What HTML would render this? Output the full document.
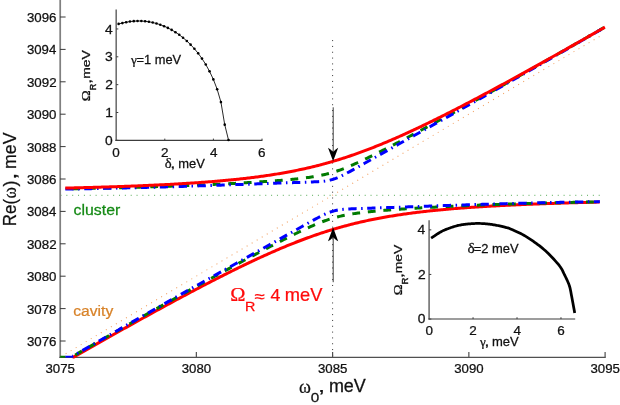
<!DOCTYPE html>
<html><head><meta charset="utf-8"><title>Re(ω) vs ω0</title>
<style>
html,body{margin:0;padding:0;background:#fff;}
body{width:620px;height:405px;overflow:hidden;font-family:'Liberation Sans', sans-serif;}
svg{display:block;will-change:transform;}
text{font-family:'Liberation Sans', sans-serif;fill:#111111;}
</style></head><body>
<svg width="620" height="405" viewBox="0 0 620 405">
<rect x="0" y="0" width="620" height="405" fill="#ffffff"/>

<g fill="none" stroke-linecap="butt">
<line x1="60.5" y1="195.3" x2="600" y2="195.3" stroke="#55aa55" stroke-width="1" stroke-dasharray="1 4.85"/>
<line x1="60.60" y1="356.85" x2="599.8" y2="36.29" stroke="#f2a468" stroke-width="1.05" stroke-dasharray="1.05 4.80"/>
<line x1="332.6" y1="40.1" x2="332.6" y2="357" stroke="#333333" stroke-width="1" stroke-dasharray="1 4.83"/>
</g>
<line x1="60.2" y1="0" x2="60.2" y2="358.0" stroke="#808080" stroke-width="1.75"/><line x1="59.4" y1="357.4" x2="605.7" y2="357.4" stroke="#505050" stroke-width="1.25"/>
<g stroke="#222" stroke-width="0.9" fill="none">
<line x1="60.2" y1="341.00" x2="65.6" y2="341.00"/>
<line x1="60.2" y1="308.60" x2="65.6" y2="308.60"/>
<line x1="60.2" y1="276.20" x2="65.6" y2="276.20"/>
<line x1="60.2" y1="243.80" x2="65.6" y2="243.80"/>
<line x1="60.2" y1="211.40" x2="65.6" y2="211.40"/>
<line x1="60.2" y1="179.00" x2="65.6" y2="179.00"/>
<line x1="60.2" y1="146.60" x2="65.6" y2="146.60"/>
<line x1="60.2" y1="114.20" x2="65.6" y2="114.20"/>
<line x1="60.2" y1="81.80" x2="65.6" y2="81.80"/>
<line x1="60.2" y1="49.40" x2="65.6" y2="49.40"/>
<line x1="60.2" y1="17.00" x2="65.6" y2="17.00"/>
<line x1="196.35" y1="357.4" x2="196.35" y2="352.1" stroke="#505050" stroke-width="1.2"/>
<line x1="332.60" y1="357.4" x2="332.60" y2="352.1" stroke="#505050" stroke-width="1.2"/>
<line x1="468.85" y1="357.4" x2="468.85" y2="352.1" stroke="#505050" stroke-width="1.2"/>
<line x1="605.10" y1="357.4" x2="605.10" y2="352.1" stroke="#505050" stroke-width="1.2"/>
</g>
<g fill="none" stroke-width="3.0" stroke-linejoin="round">
<path d="M65.30,188.91 L66.65,188.89 L68.00,188.86 L69.36,188.83 L70.71,188.81 L72.06,188.78 L73.41,188.75 L74.77,188.73 L76.12,188.70 L77.47,188.67 L78.82,188.64 L80.18,188.62 L81.53,188.59 L82.88,188.56 L84.23,188.53 L85.59,188.50 L86.94,188.47 L88.29,188.44 L89.64,188.42 L91.00,188.39 L92.35,188.36 L93.70,188.33 L95.05,188.30 L96.40,188.26 L97.76,188.23 L99.11,188.20 L100.46,188.17 L101.81,188.14 L103.17,188.11 L104.52,188.08 L105.87,188.04 L107.22,188.01 L108.58,187.98 L109.93,187.95 L111.28,187.91 L112.63,187.88 L113.99,187.84 L115.34,187.81 L116.69,187.78 L118.04,187.74 L119.40,187.71 L120.75,187.67 L122.10,187.64 L123.45,187.60 L124.80,187.56 L126.16,187.53 L127.51,187.49 L128.86,187.46 L130.21,187.42 L131.57,187.38 L132.92,187.34 L134.27,187.30 L135.62,187.27 L136.98,187.23 L138.33,187.19 L139.68,187.15 L141.03,187.11 L142.39,187.07 L143.74,187.03 L145.09,186.99 L146.44,186.95 L147.80,186.91 L149.15,186.87 L150.50,186.82 L151.85,186.78 L153.20,186.74 L154.56,186.70 L155.91,186.65 L157.26,186.61 L158.61,186.56 L159.97,186.52 L161.32,186.48 L162.67,186.43 L164.02,186.38 L165.38,186.34 L166.73,186.29 L168.08,186.25 L169.43,186.20 L170.79,186.15 L172.14,186.10 L173.49,186.05 L174.84,186.01 L176.20,185.96 L177.55,185.91 L178.90,185.86 L180.25,185.81 L181.60,185.76 L182.96,185.70 L184.31,185.65 L185.66,185.60 L187.01,185.55 L188.37,185.49 L189.72,185.44 L191.07,185.39 L192.42,185.33 L193.78,185.28 L195.13,185.22 L196.48,185.17 L197.83,185.11 L199.19,185.05 L200.54,185.00 L201.89,184.94 L203.24,184.88 L204.60,184.82 L205.95,184.76 L207.30,184.70 L208.65,184.64 L210.00,184.58 L211.36,184.52 L212.71,184.46 L214.06,184.39 L215.41,184.33 L216.77,184.27 L218.12,184.20 L219.47,184.14 L220.82,184.07 L222.18,184.00 L223.53,183.94 L224.88,183.87 L226.23,183.80 L227.59,183.73 L228.94,183.66 L230.29,183.59 L231.64,183.52 L233.00,183.45 L234.35,183.38 L235.70,183.31 L237.05,183.23 L238.40,183.16 L239.76,183.08 L241.11,183.01 L242.46,182.93 L243.81,182.85 L245.17,182.78 L246.52,182.70 L247.87,182.62 L249.22,182.54 L250.58,182.45 L251.93,182.37 L253.28,182.29 L254.63,182.20 L255.99,182.12 L257.34,182.03 L258.69,181.95 L260.04,181.86 L261.40,181.77 L262.75,181.68 L264.10,181.59 L265.45,181.49 L266.80,181.40 L268.16,181.31 L269.51,181.21 L270.86,181.11 L272.21,181.01 L273.57,180.91 L274.92,180.81 L276.27,180.71 L277.62,180.60 L278.98,180.49 L280.33,180.39 L281.68,180.27 L283.03,180.16 L284.39,180.05 L285.74,179.93 L287.09,179.81 L288.44,179.69 L289.80,179.56 L291.15,179.44 L292.50,179.31 L293.85,179.17 L295.20,179.03 L296.56,178.89 L297.91,178.75 L299.26,178.60 L300.61,178.45 L301.97,178.29 L303.32,178.13 L304.67,177.96 L306.02,177.78 L307.38,177.60 L308.73,177.42 L310.08,177.22 L311.43,177.02 L312.79,176.81 L314.14,176.59 L315.49,176.36 L316.84,176.12 L318.20,175.87 L319.55,175.61 L320.90,175.34 L322.25,175.06 L323.60,174.76 L324.96,174.45 L326.31,174.12 L327.66,173.78 L329.01,173.43 L330.37,173.06 L331.72,172.67 L333.07,172.27 L334.42,171.86 L335.78,171.43 L337.13,170.98 L338.48,170.52 L339.83,170.04 L341.19,169.55 L342.54,169.04 L343.89,168.53 L345.24,168.00 L346.60,167.46 L347.95,166.90 L349.30,166.34 L350.65,165.76 L352.00,165.18 L353.36,164.59 L354.71,163.99 L356.06,163.38 L357.41,162.76 L358.77,162.14 L360.12,161.51 L361.47,160.88 L362.82,160.24 L364.18,159.59 L365.53,158.94 L366.88,158.29 L368.23,157.63 L369.59,156.97 L370.94,156.30 L372.29,155.63 L373.64,154.96 L375.00,154.28 L376.35,153.60 L377.70,152.92 L379.05,152.24 L380.40,151.55 L381.76,150.86 L383.11,150.17 L384.46,149.48 L385.81,148.78 L387.17,148.09 L388.52,147.39 L389.87,146.69 L391.22,145.99 L392.58,145.28 L393.93,144.58 L395.28,143.87 L396.63,143.16 L397.99,142.46 L399.34,141.75 L400.69,141.03 L402.04,140.32 L403.40,139.61 L404.75,138.89 L406.10,138.18 L407.45,137.46 L408.80,136.74 L410.16,136.02 L411.51,135.31 L412.86,134.58 L414.21,133.86 L415.57,133.14 L416.92,132.42 L418.27,131.69 L419.62,130.97 L420.98,130.24 L422.33,129.52 L423.68,128.79 L425.03,128.06 L426.39,127.33 L427.74,126.60 L429.09,125.87 L430.44,125.14 L431.80,124.41 L433.15,123.68 L434.50,122.94 L435.85,122.21 L437.20,121.48 L438.56,120.74 L439.91,120.00 L441.26,119.27 L442.61,118.53 L443.97,117.79 L445.32,117.06 L446.67,116.32 L448.02,115.58 L449.38,114.84 L450.73,114.10 L452.08,113.36 L453.43,112.61 L454.79,111.87 L456.14,111.13 L457.49,110.39 L458.84,109.64 L460.20,108.90 L461.55,108.15 L462.90,107.41 L464.25,106.66 L465.60,105.91 L466.96,105.17 L468.31,104.42 L469.66,103.67 L471.01,102.92 L472.37,102.17 L473.72,101.42 L475.07,100.67 L476.42,99.92 L477.78,99.17 L479.13,98.42 L480.48,97.67 L481.83,96.92 L483.19,96.17 L484.54,95.41 L485.89,94.66 L487.24,93.91 L488.60,93.15 L489.95,92.40 L491.30,91.64 L492.65,90.89 L494.00,90.13 L495.36,89.37 L496.71,88.62 L498.06,87.86 L499.41,87.10 L500.77,86.34 L502.12,85.59 L503.47,84.83 L504.82,84.07 L506.18,83.31 L507.53,82.55 L508.88,81.79 L510.23,81.03 L511.59,80.27 L512.94,79.50 L514.29,78.74 L515.64,77.98 L517.00,77.22 L518.35,76.46 L519.70,75.69 L521.05,74.93 L522.40,74.17 L523.76,73.40 L525.11,72.64 L526.46,71.87 L527.81,71.11 L529.17,70.34 L530.52,69.58 L531.87,68.81 L533.22,68.05 L534.58,67.28 L535.93,66.51 L537.28,65.75 L538.63,64.98 L539.99,64.21 L541.34,63.44 L542.69,62.67 L544.04,61.91 L545.40,61.14 L546.75,60.37 L548.10,59.60 L549.45,58.83 L550.80,58.06 L552.16,57.29 L553.51,56.52 L554.86,55.75 L556.21,54.98 L557.57,54.21 L558.92,53.43 L560.27,52.66 L561.62,51.89 L562.98,51.12 L564.33,50.35 L565.68,49.57 L567.03,48.80 L568.39,48.03 L569.74,47.25 L571.09,46.48 L572.44,45.71 L573.80,44.93 L575.15,44.16 L576.50,43.38 L577.85,42.61 L579.20,41.83 L580.56,41.06 L581.91,40.28 L583.26,39.51 L584.61,38.73 L585.97,37.96 L587.32,37.18 L588.67,36.40 L590.02,35.63 L591.38,34.85 L592.73,34.07 L594.08,33.30 L595.43,32.52 L596.79,31.74 L598.14,30.96 L599.49,30.18 L600.84,29.41 L602.20,28.63 L603.55,27.85 L604.90,27.07" stroke="#007a00" stroke-dasharray="7.8 7.8" stroke-dashoffset="8.6"/>
<path d="M65.30,189.12 L66.65,189.10 L68.00,189.07 L69.36,189.05 L70.71,189.02 L72.06,189.00 L73.41,188.98 L74.77,188.95 L76.12,188.93 L77.47,188.90 L78.82,188.88 L80.18,188.85 L81.53,188.83 L82.88,188.80 L84.23,188.78 L85.59,188.75 L86.94,188.72 L88.29,188.70 L89.64,188.67 L91.00,188.65 L92.35,188.62 L93.70,188.59 L95.05,188.56 L96.40,188.54 L97.76,188.51 L99.11,188.48 L100.46,188.46 L101.81,188.43 L103.17,188.40 L104.52,188.37 L105.87,188.34 L107.22,188.31 L108.58,188.29 L109.93,188.26 L111.28,188.23 L112.63,188.20 L113.99,188.17 L115.34,188.14 L116.69,188.11 L118.04,188.08 L119.40,188.05 L120.75,188.02 L122.10,187.99 L123.45,187.96 L124.80,187.92 L126.16,187.89 L127.51,187.86 L128.86,187.83 L130.21,187.80 L131.57,187.77 L132.92,187.73 L134.27,187.70 L135.62,187.67 L136.98,187.64 L138.33,187.60 L139.68,187.57 L141.03,187.53 L142.39,187.50 L143.74,187.47 L145.09,187.43 L146.44,187.40 L147.80,187.36 L149.15,187.33 L150.50,187.29 L151.85,187.26 L153.20,187.22 L154.56,187.19 L155.91,187.15 L157.26,187.11 L158.61,187.08 L159.97,187.04 L161.32,187.00 L162.67,186.97 L164.02,186.93 L165.38,186.89 L166.73,186.85 L168.08,186.81 L169.43,186.78 L170.79,186.74 L172.14,186.70 L173.49,186.66 L174.84,186.62 L176.20,186.58 L177.55,186.54 L178.90,186.50 L180.25,186.46 L181.60,186.42 L182.96,186.38 L184.31,186.34 L185.66,186.30 L187.01,186.26 L188.37,186.21 L189.72,186.17 L191.07,186.13 L192.42,186.09 L193.78,186.05 L195.13,186.00 L196.48,185.96 L197.83,185.92 L199.19,185.87 L200.54,185.83 L201.89,185.79 L203.24,185.74 L204.60,185.70 L205.95,185.65 L207.30,185.61 L208.65,185.56 L210.00,185.52 L211.36,185.47 L212.71,185.43 L214.06,185.38 L215.41,185.33 L216.77,185.29 L218.12,185.24 L219.47,185.20 L220.82,185.15 L222.18,185.10 L223.53,185.05 L224.88,185.01 L226.23,184.96 L227.59,184.91 L228.94,184.86 L230.29,184.82 L231.64,184.77 L233.00,184.72 L234.35,184.67 L235.70,184.62 L237.05,184.58 L238.40,184.53 L239.76,184.48 L241.11,184.43 L242.46,184.38 L243.81,184.33 L245.17,184.28 L246.52,184.23 L247.87,184.19 L249.22,184.14 L250.58,184.09 L251.93,184.04 L253.28,183.99 L254.63,183.94 L255.99,183.89 L257.34,183.84 L258.69,183.79 L260.04,183.74 L261.40,183.70 L262.75,183.65 L264.10,183.60 L265.45,183.55 L266.80,183.50 L268.16,183.45 L269.51,183.41 L270.86,183.36 L272.21,183.31 L273.57,183.26 L274.92,183.22 L276.27,183.17 L277.62,183.12 L278.98,183.08 L280.33,183.03 L281.68,182.98 L283.03,182.94 L284.39,182.89 L285.74,182.85 L287.09,182.81 L288.44,182.76 L289.80,182.72 L291.15,182.67 L292.50,182.63 L293.85,182.59 L295.20,182.54 L296.56,182.50 L297.91,182.46 L299.26,182.41 L300.61,182.37 L301.97,182.33 L303.32,182.28 L304.67,182.24 L306.02,182.19 L307.38,182.15 L308.73,182.10 L310.08,182.05 L311.43,181.99 L312.79,181.93 L314.14,181.87 L315.49,181.80 L316.84,181.73 L318.20,181.64 L319.55,181.55 L320.90,181.44 L322.25,181.31 L323.60,181.17 L324.96,181.00 L326.31,180.80 L327.66,180.57 L329.01,180.30 L330.37,179.99 L331.72,179.64 L333.07,179.24 L334.42,178.80 L335.78,178.31 L337.13,177.78 L338.48,177.21 L339.83,176.61 L341.19,175.98 L342.54,175.32 L343.89,174.65 L345.24,173.96 L346.60,173.25 L347.95,172.53 L349.30,171.81 L350.65,171.07 L352.00,170.33 L353.36,169.58 L354.71,168.84 L356.06,168.08 L357.41,167.33 L358.77,166.57 L360.12,165.81 L361.47,165.05 L362.82,164.29 L364.18,163.53 L365.53,162.77 L366.88,162.01 L368.23,161.25 L369.59,160.49 L370.94,159.73 L372.29,158.97 L373.64,158.21 L375.00,157.45 L376.35,156.69 L377.70,155.93 L379.05,155.17 L380.40,154.41 L381.76,153.65 L383.11,152.89 L384.46,152.13 L385.81,151.37 L387.17,150.62 L388.52,149.86 L389.87,149.10 L391.22,148.35 L392.58,147.59 L393.93,146.83 L395.28,146.08 L396.63,145.32 L397.99,144.56 L399.34,143.81 L400.69,143.05 L402.04,142.30 L403.40,141.54 L404.75,140.79 L406.10,140.03 L407.45,139.28 L408.80,138.52 L410.16,137.77 L411.51,137.01 L412.86,136.26 L414.21,135.50 L415.57,134.75 L416.92,133.99 L418.27,133.24 L419.62,132.48 L420.98,131.73 L422.33,130.97 L423.68,130.22 L425.03,129.46 L426.39,128.71 L427.74,127.95 L429.09,127.19 L430.44,126.44 L431.80,125.68 L433.15,124.93 L434.50,124.17 L435.85,123.41 L437.20,122.66 L438.56,121.90 L439.91,121.15 L441.26,120.39 L442.61,119.63 L443.97,118.87 L445.32,118.12 L446.67,117.36 L448.02,116.60 L449.38,115.84 L450.73,115.09 L452.08,114.33 L453.43,113.57 L454.79,112.81 L456.14,112.05 L457.49,111.29 L458.84,110.53 L460.20,109.78 L461.55,109.02 L462.90,108.26 L464.25,107.50 L465.60,106.74 L466.96,105.98 L468.31,105.21 L469.66,104.45 L471.01,103.69 L472.37,102.93 L473.72,102.17 L475.07,101.41 L476.42,100.65 L477.78,99.88 L479.13,99.12 L480.48,98.36 L481.83,97.60 L483.19,96.83 L484.54,96.07 L485.89,95.30 L487.24,94.54 L488.60,93.78 L489.95,93.01 L491.30,92.25 L492.65,91.48 L494.00,90.72 L495.36,89.95 L496.71,89.19 L498.06,88.42 L499.41,87.66 L500.77,86.89 L502.12,86.12 L503.47,85.36 L504.82,84.59 L506.18,83.82 L507.53,83.05 L508.88,82.29 L510.23,81.52 L511.59,80.75 L512.94,79.98 L514.29,79.21 L515.64,78.45 L517.00,77.68 L518.35,76.91 L519.70,76.14 L521.05,75.37 L522.40,74.60 L523.76,73.83 L525.11,73.06 L526.46,72.29 L527.81,71.52 L529.17,70.75 L530.52,69.97 L531.87,69.20 L533.22,68.43 L534.58,67.66 L535.93,66.89 L537.28,66.12 L538.63,65.34 L539.99,64.57 L541.34,63.80 L542.69,63.02 L544.04,62.25 L545.40,61.48 L546.75,60.70 L548.10,59.93 L549.45,59.16 L550.80,58.38 L552.16,57.61 L553.51,56.83 L554.86,56.06 L556.21,55.28 L557.57,54.51 L558.92,53.73 L560.27,52.96 L561.62,52.18 L562.98,51.41 L564.33,50.63 L565.68,49.85 L567.03,49.08 L568.39,48.30 L569.74,47.52 L571.09,46.75 L572.44,45.97 L573.80,45.19 L575.15,44.41 L576.50,43.64 L577.85,42.86 L579.20,42.08 L580.56,41.30 L581.91,40.52 L583.26,39.75 L584.61,38.97 L585.97,38.19 L587.32,37.41 L588.67,36.63 L590.02,35.85 L591.38,35.07 L592.73,34.29 L594.08,33.51 L595.43,32.73 L596.79,31.95 L598.14,31.17 L599.49,30.39 L600.84,29.61 L602.20,28.83 L603.55,28.05 L604.90,27.27" stroke="#0000ff" stroke-dasharray="8.3 4.55 1.5 4.55"/>
<path d="M65.30,188.10 L66.65,188.07 L68.00,188.03 L69.36,188.00 L70.71,187.97 L72.06,187.93 L73.41,187.90 L74.77,187.87 L76.12,187.83 L77.47,187.80 L78.82,187.76 L80.18,187.73 L81.53,187.69 L82.88,187.65 L84.23,187.62 L85.59,187.58 L86.94,187.54 L88.29,187.51 L89.64,187.47 L91.00,187.43 L92.35,187.39 L93.70,187.35 L95.05,187.31 L96.40,187.28 L97.76,187.24 L99.11,187.19 L100.46,187.15 L101.81,187.11 L103.17,187.07 L104.52,187.03 L105.87,186.99 L107.22,186.94 L108.58,186.90 L109.93,186.86 L111.28,186.81 L112.63,186.77 L113.99,186.72 L115.34,186.68 L116.69,186.63 L118.04,186.59 L119.40,186.54 L120.75,186.49 L122.10,186.44 L123.45,186.39 L124.80,186.35 L126.16,186.30 L127.51,186.25 L128.86,186.19 L130.21,186.14 L131.57,186.09 L132.92,186.04 L134.27,185.99 L135.62,185.93 L136.98,185.88 L138.33,185.82 L139.68,185.77 L141.03,185.71 L142.39,185.66 L143.74,185.60 L145.09,185.54 L146.44,185.48 L147.80,185.42 L149.15,185.36 L150.50,185.30 L151.85,185.24 L153.20,185.18 L154.56,185.12 L155.91,185.06 L157.26,184.99 L158.61,184.93 L159.97,184.86 L161.32,184.79 L162.67,184.73 L164.02,184.66 L165.38,184.59 L166.73,184.52 L168.08,184.45 L169.43,184.38 L170.79,184.31 L172.14,184.23 L173.49,184.16 L174.84,184.08 L176.20,184.01 L177.55,183.93 L178.90,183.85 L180.25,183.77 L181.60,183.69 L182.96,183.61 L184.31,183.53 L185.66,183.45 L187.01,183.36 L188.37,183.28 L189.72,183.19 L191.07,183.10 L192.42,183.02 L193.78,182.93 L195.13,182.83 L196.48,182.74 L197.83,182.65 L199.19,182.55 L200.54,182.46 L201.89,182.36 L203.24,182.26 L204.60,182.16 L205.95,182.06 L207.30,181.96 L208.65,181.85 L210.00,181.75 L211.36,181.64 L212.71,181.53 L214.06,181.42 L215.41,181.31 L216.77,181.20 L218.12,181.08 L219.47,180.97 L220.82,180.85 L222.18,180.73 L223.53,180.60 L224.88,180.48 L226.23,180.36 L227.59,180.23 L228.94,180.10 L230.29,179.97 L231.64,179.84 L233.00,179.70 L234.35,179.56 L235.70,179.43 L237.05,179.28 L238.40,179.14 L239.76,179.00 L241.11,178.85 L242.46,178.70 L243.81,178.55 L245.17,178.39 L246.52,178.24 L247.87,178.08 L249.22,177.92 L250.58,177.75 L251.93,177.59 L253.28,177.42 L254.63,177.25 L255.99,177.07 L257.34,176.90 L258.69,176.72 L260.04,176.54 L261.40,176.35 L262.75,176.16 L264.10,175.97 L265.45,175.78 L266.80,175.58 L268.16,175.38 L269.51,175.18 L270.86,174.97 L272.21,174.76 L273.57,174.55 L274.92,174.34 L276.27,174.12 L277.62,173.89 L278.98,173.67 L280.33,173.44 L281.68,173.21 L283.03,172.97 L284.39,172.73 L285.74,172.49 L287.09,172.24 L288.44,171.99 L289.80,171.73 L291.15,171.48 L292.50,171.21 L293.85,170.95 L295.20,170.68 L296.56,170.40 L297.91,170.12 L299.26,169.84 L300.61,169.55 L301.97,169.26 L303.32,168.97 L304.67,168.67 L306.02,168.36 L307.38,168.05 L308.73,167.74 L310.08,167.42 L311.43,167.10 L312.79,166.78 L314.14,166.45 L315.49,166.11 L316.84,165.77 L318.20,165.43 L319.55,165.08 L320.90,164.73 L322.25,164.37 L323.60,164.00 L324.96,163.64 L326.31,163.26 L327.66,162.89 L329.01,162.51 L330.37,162.12 L331.72,161.73 L333.07,161.33 L334.42,160.93 L335.78,160.53 L337.13,160.12 L338.48,159.70 L339.83,159.28 L341.19,158.86 L342.54,158.43 L343.89,157.99 L345.24,157.56 L346.60,157.11 L347.95,156.67 L349.30,156.21 L350.65,155.76 L352.00,155.29 L353.36,154.83 L354.71,154.36 L356.06,153.88 L357.41,153.40 L358.77,152.92 L360.12,152.43 L361.47,151.94 L362.82,151.44 L364.18,150.94 L365.53,150.43 L366.88,149.92 L368.23,149.40 L369.59,148.89 L370.94,148.36 L372.29,147.84 L373.64,147.30 L375.00,146.77 L376.35,146.23 L377.70,145.69 L379.05,145.14 L380.40,144.59 L381.76,144.03 L383.11,143.48 L384.46,142.91 L385.81,142.35 L387.17,141.78 L388.52,141.21 L389.87,140.63 L391.22,140.05 L392.58,139.47 L393.93,138.88 L395.28,138.29 L396.63,137.70 L397.99,137.10 L399.34,136.50 L400.69,135.90 L402.04,135.29 L403.40,134.69 L404.75,134.07 L406.10,133.46 L407.45,132.84 L408.80,132.22 L410.16,131.60 L411.51,130.97 L412.86,130.35 L414.21,129.71 L415.57,129.08 L416.92,128.44 L418.27,127.81 L419.62,127.16 L420.98,126.52 L422.33,125.87 L423.68,125.23 L425.03,124.57 L426.39,123.92 L427.74,123.27 L429.09,122.61 L430.44,121.95 L431.80,121.29 L433.15,120.62 L434.50,119.96 L435.85,119.29 L437.20,118.62 L438.56,117.95 L439.91,117.27 L441.26,116.60 L442.61,115.92 L443.97,115.24 L445.32,114.56 L446.67,113.88 L448.02,113.19 L449.38,112.50 L450.73,111.82 L452.08,111.13 L453.43,110.44 L454.79,109.74 L456.14,109.05 L457.49,108.35 L458.84,107.66 L460.20,106.96 L461.55,106.26 L462.90,105.55 L464.25,104.85 L465.60,104.15 L466.96,103.44 L468.31,102.73 L469.66,102.02 L471.01,101.32 L472.37,100.60 L473.72,99.89 L475.07,99.18 L476.42,98.46 L477.78,97.75 L479.13,97.03 L480.48,96.31 L481.83,95.59 L483.19,94.87 L484.54,94.15 L485.89,93.43 L487.24,92.71 L488.60,91.98 L489.95,91.26 L491.30,90.53 L492.65,89.80 L494.00,89.07 L495.36,88.34 L496.71,87.61 L498.06,86.88 L499.41,86.15 L500.77,85.42 L502.12,84.68 L503.47,83.95 L504.82,83.21 L506.18,82.48 L507.53,81.74 L508.88,81.00 L510.23,80.26 L511.59,79.53 L512.94,78.78 L514.29,78.04 L515.64,77.30 L517.00,76.56 L518.35,75.82 L519.70,75.07 L521.05,74.33 L522.40,73.58 L523.76,72.84 L525.11,72.09 L526.46,71.34 L527.81,70.60 L529.17,69.85 L530.52,69.10 L531.87,68.35 L533.22,67.60 L534.58,66.85 L535.93,66.10 L537.28,65.34 L538.63,64.59 L539.99,63.84 L541.34,63.09 L542.69,62.33 L544.04,61.58 L545.40,60.82 L546.75,60.07 L548.10,59.31 L549.45,58.55 L550.80,57.80 L552.16,57.04 L553.51,56.28 L554.86,55.52 L556.21,54.76 L557.57,54.00 L558.92,53.24 L560.27,52.48 L561.62,51.72 L562.98,50.96 L564.33,50.20 L565.68,49.44 L567.03,48.67 L568.39,47.91 L569.74,47.15 L571.09,46.38 L572.44,45.62 L573.80,44.85 L575.15,44.09 L576.50,43.32 L577.85,42.56 L579.20,41.79 L580.56,41.03 L581.91,40.26 L583.26,39.49 L584.61,38.73 L585.97,37.96 L587.32,37.19 L588.67,36.42 L590.02,35.65 L591.38,34.88 L592.73,34.11 L594.08,33.34 L595.43,32.57 L596.79,31.80 L598.14,31.03 L599.49,30.26 L600.84,29.49 L602.20,28.72 L603.55,27.95 L604.90,27.17" stroke="#ff0000" stroke-width="3.0"/>
<path d="M72.60,356.90 L73.92,356.88 L75.24,356.13 L76.56,355.38 L77.89,354.63 L79.21,353.88 L80.53,353.13 L81.85,352.38 L83.17,351.63 L84.49,350.88 L85.81,350.13 L87.13,349.38 L88.46,348.63 L89.78,347.88 L91.10,347.13 L92.42,346.38 L93.74,345.64 L95.06,344.89 L96.38,344.14 L97.70,343.40 L99.03,342.65 L100.35,341.90 L101.67,341.16 L102.99,340.41 L104.31,339.67 L105.63,338.93 L106.95,338.18 L108.28,337.44 L109.60,336.70 L110.92,335.95 L112.24,335.21 L113.56,334.47 L114.88,333.73 L116.20,332.99 L117.52,332.25 L118.85,331.51 L120.17,330.77 L121.49,330.03 L122.81,329.29 L124.13,328.55 L125.45,327.82 L126.77,327.08 L128.09,326.34 L129.42,325.61 L130.74,324.87 L132.06,324.14 L133.38,323.40 L134.70,322.67 L136.02,321.94 L137.34,321.20 L138.67,320.47 L139.99,319.74 L141.31,319.01 L142.63,318.28 L143.95,317.55 L145.27,316.82 L146.59,316.09 L147.91,315.36 L149.24,314.64 L150.56,313.91 L151.88,313.18 L153.20,312.46 L154.52,311.74 L155.84,311.01 L157.16,310.29 L158.48,309.57 L159.81,308.85 L161.13,308.12 L162.45,307.40 L163.77,306.69 L165.09,305.97 L166.41,305.25 L167.73,304.53 L169.06,303.82 L170.38,303.10 L171.70,302.39 L173.02,301.67 L174.34,300.96 L175.66,300.25 L176.98,299.54 L178.30,298.83 L179.63,298.12 L180.95,297.41 L182.27,296.71 L183.59,296.00 L184.91,295.30 L186.23,294.59 L187.55,293.89 L188.87,293.19 L190.20,292.49 L191.52,291.79 L192.84,291.09 L194.16,290.39 L195.48,289.69 L196.80,289.00 L198.12,288.31 L199.45,287.61 L200.77,286.92 L202.09,286.23 L203.41,285.54 L204.73,284.85 L206.05,284.17 L207.37,283.48 L208.69,282.80 L210.02,282.12 L211.34,281.44 L212.66,280.76 L213.98,280.08 L215.30,279.40 L216.62,278.73 L217.94,278.05 L219.26,277.38 L220.59,276.71 L221.91,276.04 L223.23,275.38 L224.55,274.71 L225.87,274.05 L227.19,273.39 L228.51,272.73 L229.84,272.07 L231.16,271.41 L232.48,270.76 L233.80,270.10 L235.12,269.45 L236.44,268.81 L237.76,268.16 L239.08,267.51 L240.41,266.87 L241.73,266.23 L243.05,265.59 L244.37,264.96 L245.69,264.32 L247.01,263.69 L248.33,263.06 L249.65,262.43 L250.98,261.81 L252.30,261.19 L253.62,260.57 L254.94,259.95 L256.26,259.33 L257.58,258.72 L258.90,258.11 L260.23,257.50 L261.55,256.90 L262.87,256.30 L264.19,255.70 L265.51,255.10 L266.83,254.51 L268.15,253.92 L269.47,253.33 L270.80,252.75 L272.12,252.17 L273.44,251.59 L274.76,251.01 L276.08,250.44 L277.40,249.87 L278.72,249.31 L280.04,248.74 L281.37,248.19 L282.69,247.63 L284.01,247.08 L285.33,246.53 L286.65,245.98 L287.97,245.44 L289.29,244.90 L290.62,244.37 L291.94,243.84 L293.26,243.31 L294.58,242.79 L295.90,242.27 L297.22,241.76 L298.54,241.24 L299.86,240.74 L301.19,240.23 L302.51,239.73 L303.83,239.24 L305.15,238.75 L306.47,238.26 L307.79,237.78 L309.11,237.30 L310.43,236.82 L311.76,236.35 L313.08,235.89 L314.40,235.43 L315.72,234.97 L317.04,234.52 L318.36,234.07 L319.68,233.62 L321.01,233.18 L322.33,232.75 L323.65,232.32 L324.97,231.89 L326.29,231.47 L327.61,231.05 L328.93,230.64 L330.25,230.23 L331.58,229.83 L332.90,229.43 L334.22,229.03 L335.54,228.64 L336.86,228.26 L338.18,227.88 L339.50,227.50 L340.82,227.13 L342.15,226.76 L343.47,226.40 L344.79,226.04 L346.11,225.68 L347.43,225.33 L348.75,224.99 L350.07,224.65 L351.39,224.31 L352.72,223.98 L354.04,223.65 L355.36,223.33 L356.68,223.01 L358.00,222.70 L359.32,222.39 L360.64,222.08 L361.97,221.78 L363.29,221.48 L364.61,221.19 L365.93,220.90 L367.25,220.61 L368.57,220.33 L369.89,220.05 L371.21,219.78 L372.54,219.51 L373.86,219.24 L375.18,218.98 L376.50,218.72 L377.82,218.47 L379.14,218.22 L380.46,217.97 L381.78,217.72 L383.11,217.48 L384.43,217.25 L385.75,217.02 L387.07,216.79 L388.39,216.56 L389.71,216.34 L391.03,216.12 L392.36,215.90 L393.68,215.69 L395.00,215.48 L396.32,215.27 L397.64,215.07 L398.96,214.87 L400.28,214.67 L401.60,214.47 L402.93,214.28 L404.25,214.09 L405.57,213.91 L406.89,213.72 L408.21,213.54 L409.53,213.37 L410.85,213.19 L412.17,213.02 L413.50,212.85 L414.82,212.68 L416.14,212.51 L417.46,212.35 L418.78,212.19 L420.10,212.03 L421.42,211.88 L422.75,211.72 L424.07,211.57 L425.39,211.42 L426.71,211.28 L428.03,211.13 L429.35,210.99 L430.67,210.85 L431.99,210.71 L433.32,210.57 L434.64,210.44 L435.96,210.31 L437.28,210.18 L438.60,210.05 L439.92,209.92 L441.24,209.79 L442.56,209.67 L443.89,209.55 L445.21,209.43 L446.53,209.31 L447.85,209.19 L449.17,209.08 L450.49,208.97 L451.81,208.85 L453.14,208.74 L454.46,208.63 L455.78,208.53 L457.10,208.42 L458.42,208.32 L459.74,208.21 L461.06,208.11 L462.38,208.01 L463.71,207.91 L465.03,207.81 L466.35,207.72 L467.67,207.62 L468.99,207.53 L470.31,207.44 L471.63,207.34 L472.95,207.25 L474.28,207.16 L475.60,207.08 L476.92,206.99 L478.24,206.90 L479.56,206.82 L480.88,206.74 L482.20,206.65 L483.53,206.57 L484.85,206.49 L486.17,206.41 L487.49,206.33 L488.81,206.26 L490.13,206.18 L491.45,206.10 L492.77,206.03 L494.10,205.96 L495.42,205.88 L496.74,205.81 L498.06,205.74 L499.38,205.67 L500.70,205.60 L502.02,205.53 L503.34,205.46 L504.67,205.40 L505.99,205.33 L507.31,205.26 L508.63,205.20 L509.95,205.14 L511.27,205.07 L512.59,205.01 L513.92,204.95 L515.24,204.89 L516.56,204.83 L517.88,204.77 L519.20,204.71 L520.52,204.65 L521.84,204.59 L523.16,204.53 L524.49,204.48 L525.81,204.42 L527.13,204.37 L528.45,204.31 L529.77,204.26 L531.09,204.20 L532.41,204.15 L533.73,204.10 L535.06,204.05 L536.38,204.00 L537.70,203.95 L539.02,203.90 L540.34,203.85 L541.66,203.80 L542.98,203.75 L544.31,203.70 L545.63,203.65 L546.95,203.61 L548.27,203.56 L549.59,203.51 L550.91,203.47 L552.23,203.42 L553.55,203.38 L554.88,203.33 L556.20,203.29 L557.52,203.25 L558.84,203.20 L560.16,203.16 L561.48,203.12 L562.80,203.08 L564.12,203.03 L565.45,202.99 L566.77,202.95 L568.09,202.91 L569.41,202.87 L570.73,202.83 L572.05,202.80 L573.37,202.76 L574.70,202.72 L576.02,202.68 L577.34,202.64 L578.66,202.61 L579.98,202.57 L581.30,202.53 L582.62,202.50 L583.94,202.46 L585.27,202.42 L586.59,202.39 L587.91,202.35 L589.23,202.32 L590.55,202.29 L591.87,202.25 L593.19,202.22 L594.51,202.18 L595.84,202.15 L597.16,202.12 L598.48,202.09 L599.80,202.05" stroke="#ff0000" stroke-width="3.0"/>
<path d="M72.60,356.46 L73.92,355.70 L75.24,354.94 L76.56,354.19 L77.89,353.43 L79.21,352.67 L80.53,351.91 L81.85,351.15 L83.17,350.40 L84.49,349.64 L85.81,348.88 L87.13,348.12 L88.46,347.37 L89.78,346.61 L91.10,345.85 L92.42,345.10 L93.74,344.34 L95.06,343.58 L96.38,342.83 L97.70,342.07 L99.03,341.32 L100.35,340.56 L101.67,339.81 L102.99,339.05 L104.31,338.30 L105.63,337.55 L106.95,336.79 L108.28,336.04 L109.60,335.29 L110.92,334.53 L112.24,333.78 L113.56,333.03 L114.88,332.27 L116.20,331.52 L117.52,330.77 L118.85,330.02 L120.17,329.27 L121.49,328.52 L122.81,327.77 L124.13,327.02 L125.45,326.27 L126.77,325.52 L128.09,324.77 L129.42,324.02 L130.74,323.27 L132.06,322.52 L133.38,321.77 L134.70,321.02 L136.02,320.27 L137.34,319.53 L138.67,318.78 L139.99,318.03 L141.31,317.29 L142.63,316.54 L143.95,315.79 L145.27,315.05 L146.59,314.30 L147.91,313.56 L149.24,312.81 L150.56,312.07 L151.88,311.32 L153.20,310.58 L154.52,309.84 L155.84,309.09 L157.16,308.35 L158.48,307.61 L159.81,306.86 L161.13,306.12 L162.45,305.38 L163.77,304.64 L165.09,303.90 L166.41,303.16 L167.73,302.42 L169.06,301.68 L170.38,300.94 L171.70,300.20 L173.02,299.46 L174.34,298.73 L175.66,297.99 L176.98,297.25 L178.30,296.51 L179.63,295.78 L180.95,295.04 L182.27,294.31 L183.59,293.57 L184.91,292.84 L186.23,292.10 L187.55,291.37 L188.87,290.63 L190.20,289.90 L191.52,289.17 L192.84,288.44 L194.16,287.70 L195.48,286.97 L196.80,286.24 L198.12,285.51 L199.45,284.78 L200.77,284.05 L202.09,283.32 L203.41,282.60 L204.73,281.87 L206.05,281.14 L207.37,280.41 L208.69,279.69 L210.02,278.96 L211.34,278.24 L212.66,277.51 L213.98,276.79 L215.30,276.06 L216.62,275.34 L217.94,274.62 L219.26,273.90 L220.59,273.17 L221.91,272.45 L223.23,271.73 L224.55,271.01 L225.87,270.29 L227.19,269.58 L228.51,268.86 L229.84,268.14 L231.16,267.42 L232.48,266.71 L233.80,265.99 L235.12,265.28 L236.44,264.56 L237.76,263.85 L239.08,263.14 L240.41,262.43 L241.73,261.72 L243.05,261.01 L244.37,260.30 L245.69,259.59 L247.01,258.88 L248.33,258.17 L249.65,257.47 L250.98,256.76 L252.30,256.05 L253.62,255.35 L254.94,254.65 L256.26,253.95 L257.58,253.24 L258.90,252.54 L260.23,251.84 L261.55,251.15 L262.87,250.45 L264.19,249.75 L265.51,249.06 L266.83,248.36 L268.15,247.67 L269.47,246.98 L270.80,246.29 L272.12,245.60 L273.44,244.91 L274.76,244.23 L276.08,243.54 L277.40,242.86 L278.72,242.18 L280.04,241.50 L281.37,240.82 L282.69,240.15 L284.01,239.47 L285.33,238.80 L286.65,238.13 L287.97,237.46 L289.29,236.80 L290.62,236.14 L291.94,235.48 L293.26,234.82 L294.58,234.17 L295.90,233.52 L297.22,232.87 L298.54,232.23 L299.86,231.59 L301.19,230.96 L302.51,230.33 L303.83,229.71 L305.15,229.09 L306.47,228.47 L307.79,227.87 L309.11,227.27 L310.43,226.67 L311.76,226.09 L313.08,225.51 L314.40,224.94 L315.72,224.38 L317.04,223.83 L318.36,223.29 L319.68,222.76 L321.01,222.24 L322.33,221.73 L323.65,221.24 L324.97,220.76 L326.29,220.29 L327.61,219.83 L328.93,219.39 L330.25,218.97 L331.58,218.56 L332.90,218.16 L334.22,217.78 L335.54,217.42 L336.86,217.06 L338.18,216.73 L339.50,216.40 L340.82,216.09 L342.15,215.80 L343.47,215.51 L344.79,215.24 L346.11,214.98 L347.43,214.73 L348.75,214.49 L350.07,214.27 L351.39,214.05 L352.72,213.84 L354.04,213.63 L355.36,213.44 L356.68,213.25 L358.00,213.07 L359.32,212.90 L360.64,212.73 L361.97,212.56 L363.29,212.40 L364.61,212.25 L365.93,212.10 L367.25,211.96 L368.57,211.82 L369.89,211.68 L371.21,211.55 L372.54,211.42 L373.86,211.29 L375.18,211.16 L376.50,211.04 L377.82,210.92 L379.14,210.80 L380.46,210.69 L381.78,210.58 L383.11,210.47 L384.43,210.36 L385.75,210.25 L387.07,210.15 L388.39,210.04 L389.71,209.94 L391.03,209.84 L392.36,209.74 L393.68,209.65 L395.00,209.55 L396.32,209.46 L397.64,209.36 L398.96,209.27 L400.28,209.18 L401.60,209.09 L402.93,209.00 L404.25,208.91 L405.57,208.83 L406.89,208.74 L408.21,208.66 L409.53,208.57 L410.85,208.49 L412.17,208.41 L413.50,208.33 L414.82,208.25 L416.14,208.17 L417.46,208.09 L418.78,208.01 L420.10,207.93 L421.42,207.86 L422.75,207.78 L424.07,207.71 L425.39,207.63 L426.71,207.56 L428.03,207.49 L429.35,207.42 L430.67,207.34 L431.99,207.27 L433.32,207.20 L434.64,207.13 L435.96,207.07 L437.28,207.00 L438.60,206.93 L439.92,206.86 L441.24,206.80 L442.56,206.73 L443.89,206.67 L445.21,206.60 L446.53,206.54 L447.85,206.48 L449.17,206.41 L450.49,206.35 L451.81,206.29 L453.14,206.23 L454.46,206.17 L455.78,206.11 L457.10,206.05 L458.42,205.99 L459.74,205.93 L461.06,205.87 L462.38,205.82 L463.71,205.76 L465.03,205.70 L466.35,205.65 L467.67,205.59 L468.99,205.54 L470.31,205.48 L471.63,205.43 L472.95,205.38 L474.28,205.32 L475.60,205.27 L476.92,205.22 L478.24,205.17 L479.56,205.11 L480.88,205.06 L482.20,205.01 L483.53,204.96 L484.85,204.91 L486.17,204.86 L487.49,204.82 L488.81,204.77 L490.13,204.72 L491.45,204.67 L492.77,204.62 L494.10,204.58 L495.42,204.53 L496.74,204.48 L498.06,204.44 L499.38,204.39 L500.70,204.35 L502.02,204.30 L503.34,204.26 L504.67,204.22 L505.99,204.17 L507.31,204.13 L508.63,204.09 L509.95,204.04 L511.27,204.00 L512.59,203.96 L513.92,203.92 L515.24,203.88 L516.56,203.84 L517.88,203.80 L519.20,203.76 L520.52,203.72 L521.84,203.68 L523.16,203.64 L524.49,203.60 L525.81,203.56 L527.13,203.52 L528.45,203.48 L529.77,203.45 L531.09,203.41 L532.41,203.37 L533.73,203.34 L535.06,203.30 L536.38,203.26 L537.70,203.23 L539.02,203.19 L540.34,203.16 L541.66,203.12 L542.98,203.09 L544.31,203.05 L545.63,203.02 L546.95,202.98 L548.27,202.95 L549.59,202.91 L550.91,202.88 L552.23,202.85 L553.55,202.82 L554.88,202.78 L556.20,202.75 L557.52,202.72 L558.84,202.69 L560.16,202.66 L561.48,202.62 L562.80,202.59 L564.12,202.56 L565.45,202.53 L566.77,202.50 L568.09,202.47 L569.41,202.44 L570.73,202.41 L572.05,202.38 L573.37,202.35 L574.70,202.32 L576.02,202.29 L577.34,202.27 L578.66,202.24 L579.98,202.21 L581.30,202.18 L582.62,202.15 L583.94,202.13 L585.27,202.10 L586.59,202.07 L587.91,202.04 L589.23,202.02 L590.55,201.99 L591.87,201.96 L593.19,201.94 L594.51,201.91 L595.84,201.89 L597.16,201.86 L598.48,201.83 L599.80,201.81" stroke="#007a00" stroke-dasharray="7.8 7.8" stroke-dashoffset="12.6"/>
<path d="M72.60,356.24 L73.92,355.48 L75.24,354.72 L76.56,353.96 L77.89,353.20 L79.21,352.44 L80.53,351.67 L81.85,350.91 L83.17,350.15 L84.49,349.39 L85.81,348.63 L87.13,347.87 L88.46,347.11 L89.78,346.35 L91.10,345.59 L92.42,344.83 L93.74,344.07 L95.06,343.31 L96.38,342.56 L97.70,341.80 L99.03,341.04 L100.35,340.28 L101.67,339.52 L102.99,338.76 L104.31,338.01 L105.63,337.25 L106.95,336.49 L108.28,335.73 L109.60,334.98 L110.92,334.22 L112.24,333.46 L113.56,332.70 L114.88,331.95 L116.20,331.19 L117.52,330.44 L118.85,329.68 L120.17,328.92 L121.49,328.17 L122.81,327.41 L124.13,326.66 L125.45,325.90 L126.77,325.15 L128.09,324.39 L129.42,323.64 L130.74,322.89 L132.06,322.13 L133.38,321.38 L134.70,320.62 L136.02,319.87 L137.34,319.12 L138.67,318.36 L139.99,317.61 L141.31,316.86 L142.63,316.11 L143.95,315.35 L145.27,314.60 L146.59,313.85 L147.91,313.10 L149.24,312.35 L150.56,311.60 L151.88,310.85 L153.20,310.10 L154.52,309.34 L155.84,308.59 L157.16,307.84 L158.48,307.09 L159.81,306.35 L161.13,305.60 L162.45,304.85 L163.77,304.10 L165.09,303.35 L166.41,302.60 L167.73,301.85 L169.06,301.10 L170.38,300.36 L171.70,299.61 L173.02,298.86 L174.34,298.11 L175.66,297.37 L176.98,296.62 L178.30,295.87 L179.63,295.13 L180.95,294.38 L182.27,293.64 L183.59,292.89 L184.91,292.14 L186.23,291.40 L187.55,290.65 L188.87,289.91 L190.20,289.17 L191.52,288.42 L192.84,287.68 L194.16,286.93 L195.48,286.19 L196.80,285.45 L198.12,284.70 L199.45,283.96 L200.77,283.22 L202.09,282.47 L203.41,281.73 L204.73,280.99 L206.05,280.25 L207.37,279.51 L208.69,278.77 L210.02,278.02 L211.34,277.28 L212.66,276.54 L213.98,275.80 L215.30,275.06 L216.62,274.32 L217.94,273.58 L219.26,272.84 L220.59,272.10 L221.91,271.36 L223.23,270.62 L224.55,269.88 L225.87,269.14 L227.19,268.40 L228.51,267.66 L229.84,266.92 L231.16,266.19 L232.48,265.45 L233.80,264.71 L235.12,263.97 L236.44,263.23 L237.76,262.49 L239.08,261.76 L240.41,261.02 L241.73,260.28 L243.05,259.54 L244.37,258.80 L245.69,258.07 L247.01,257.33 L248.33,256.59 L249.65,255.85 L250.98,255.12 L252.30,254.38 L253.62,253.64 L254.94,252.90 L256.26,252.17 L257.58,251.43 L258.90,250.69 L260.23,249.95 L261.55,249.22 L262.87,248.48 L264.19,247.74 L265.51,247.00 L266.83,246.26 L268.15,245.52 L269.47,244.79 L270.80,244.05 L272.12,243.31 L273.44,242.57 L274.76,241.83 L276.08,241.09 L277.40,240.35 L278.72,239.61 L280.04,238.87 L281.37,238.13 L282.69,237.39 L284.01,236.65 L285.33,235.90 L286.65,235.16 L287.97,234.42 L289.29,233.68 L290.62,232.93 L291.94,232.19 L293.26,231.45 L294.58,230.70 L295.90,229.96 L297.22,229.22 L298.54,228.47 L299.86,227.73 L301.19,226.99 L302.51,226.24 L303.83,225.50 L305.15,224.76 L306.47,224.02 L307.79,223.28 L309.11,222.54 L310.43,221.81 L311.76,221.08 L313.08,220.35 L314.40,219.63 L315.72,218.91 L317.04,218.20 L318.36,217.50 L319.68,216.81 L321.01,216.13 L322.33,215.47 L323.65,214.82 L324.97,214.21 L326.29,213.61 L327.61,213.05 L328.93,212.53 L330.25,212.04 L331.58,211.59 L332.90,211.19 L334.22,210.84 L335.54,210.52 L336.86,210.25 L338.18,210.01 L339.50,209.80 L340.82,209.63 L342.15,209.47 L343.47,209.34 L344.79,209.23 L346.11,209.13 L347.43,209.04 L348.75,208.96 L350.07,208.89 L351.39,208.83 L352.72,208.77 L354.04,208.71 L355.36,208.66 L356.68,208.61 L358.00,208.56 L359.32,208.52 L360.64,208.47 L361.97,208.43 L363.29,208.39 L364.61,208.35 L365.93,208.30 L367.25,208.26 L368.57,208.22 L369.89,208.18 L371.21,208.14 L372.54,208.09 L373.86,208.05 L375.18,208.01 L376.50,207.97 L377.82,207.92 L379.14,207.88 L380.46,207.83 L381.78,207.79 L383.11,207.75 L384.43,207.70 L385.75,207.66 L387.07,207.61 L388.39,207.57 L389.71,207.52 L391.03,207.47 L392.36,207.43 L393.68,207.38 L395.00,207.34 L396.32,207.29 L397.64,207.24 L398.96,207.19 L400.28,207.15 L401.60,207.10 L402.93,207.05 L404.25,207.00 L405.57,206.96 L406.89,206.91 L408.21,206.86 L409.53,206.81 L410.85,206.77 L412.17,206.72 L413.50,206.67 L414.82,206.62 L416.14,206.57 L417.46,206.53 L418.78,206.48 L420.10,206.43 L421.42,206.38 L422.75,206.34 L424.07,206.29 L425.39,206.24 L426.71,206.19 L428.03,206.15 L429.35,206.10 L430.67,206.05 L431.99,206.00 L433.32,205.96 L434.64,205.91 L435.96,205.86 L437.28,205.82 L438.60,205.77 L439.92,205.72 L441.24,205.68 L442.56,205.63 L443.89,205.59 L445.21,205.54 L446.53,205.49 L447.85,205.45 L449.17,205.40 L450.49,205.36 L451.81,205.31 L453.14,205.27 L454.46,205.23 L455.78,205.18 L457.10,205.14 L458.42,205.09 L459.74,205.05 L461.06,205.01 L462.38,204.96 L463.71,204.92 L465.03,204.88 L466.35,204.83 L467.67,204.79 L468.99,204.75 L470.31,204.71 L471.63,204.67 L472.95,204.62 L474.28,204.58 L475.60,204.54 L476.92,204.50 L478.24,204.46 L479.56,204.42 L480.88,204.38 L482.20,204.34 L483.53,204.30 L484.85,204.26 L486.17,204.22 L487.49,204.18 L488.81,204.14 L490.13,204.10 L491.45,204.07 L492.77,204.03 L494.10,203.99 L495.42,203.95 L496.74,203.91 L498.06,203.88 L499.38,203.84 L500.70,203.80 L502.02,203.77 L503.34,203.73 L504.67,203.69 L505.99,203.66 L507.31,203.62 L508.63,203.59 L509.95,203.55 L511.27,203.52 L512.59,203.48 L513.92,203.45 L515.24,203.41 L516.56,203.38 L517.88,203.34 L519.20,203.31 L520.52,203.28 L521.84,203.24 L523.16,203.21 L524.49,203.18 L525.81,203.14 L527.13,203.11 L528.45,203.08 L529.77,203.05 L531.09,203.01 L532.41,202.98 L533.73,202.95 L535.06,202.92 L536.38,202.89 L537.70,202.86 L539.02,202.83 L540.34,202.80 L541.66,202.77 L542.98,202.74 L544.31,202.71 L545.63,202.68 L546.95,202.65 L548.27,202.62 L549.59,202.59 L550.91,202.56 L552.23,202.53 L553.55,202.50 L554.88,202.47 L556.20,202.44 L557.52,202.42 L558.84,202.39 L560.16,202.36 L561.48,202.33 L562.80,202.30 L564.12,202.28 L565.45,202.25 L566.77,202.22 L568.09,202.20 L569.41,202.17 L570.73,202.14 L572.05,202.12 L573.37,202.09 L574.70,202.07 L576.02,202.04 L577.34,202.01 L578.66,201.99 L579.98,201.96 L581.30,201.94 L582.62,201.91 L583.94,201.89 L585.27,201.86 L586.59,201.84 L587.91,201.81 L589.23,201.79 L590.55,201.77 L591.87,201.74 L593.19,201.72 L594.51,201.70 L595.84,201.67 L597.16,201.65 L598.48,201.63 L599.80,201.60" stroke="#0000ff" stroke-dasharray="8.3 4.55 1.5 4.55" stroke-dashoffset="7.6"/>
</g>
<line x1="60.2" y1="356.7" x2="65.6" y2="356.7" stroke="#007a00" stroke-width="1.9"/>
<line x1="65.4" y1="356.7" x2="73" y2="356.7" stroke="#0000ff" stroke-width="1.9"/>
<g stroke="#333" stroke-width="0.95" fill="none"><line x1="333.2" y1="107.3" x2="333.2" y2="153"/><line x1="333.2" y1="236" x2="333.2" y2="282.2"/></g>
<path d="M333.1,161.3 L328.0,147.8 Q330.6,149.2 333.1,151.9 Q335.6,149.2 338.2,147.8 Z" fill="#000"/>
<path d="M333.1,227.5 L328.0,241.3 Q330.6,239.9 333.1,237.2 Q335.6,239.9 338.2,241.3 Z" fill="#000"/>
<line x1="116.2" y1="9.5" x2="116.2" y2="140.9" stroke="#707070" stroke-width="1.6" fill="none"/><line x1="115.4" y1="140.35" x2="262.4" y2="140.35" stroke="#3c3c3c" stroke-width="1.1" fill="none"/>
<g stroke="#3c3c3c" stroke-width="1.0" fill="none">
<line x1="116.2" y1="140.35" x2="118.3" y2="140.35"/>
<line x1="116.2" y1="112.50" x2="118.3" y2="112.50"/>
<line x1="116.2" y1="84.65" x2="118.3" y2="84.65"/>
<line x1="116.2" y1="56.80" x2="118.3" y2="56.80"/>
<line x1="116.2" y1="28.95" x2="118.3" y2="28.95"/>
<line x1="164.80" y1="140.35" x2="164.80" y2="138.6"/>
<line x1="213.40" y1="140.35" x2="213.40" y2="138.6"/>
<line x1="262.00" y1="140.35" x2="262.00" y2="138.6"/>
</g>
<path d="M118.60,23.90 L122.39,23.09 L126.18,22.21 L129.97,21.57 L133.76,21.16 L137.55,20.98 L141.34,21.02 L145.13,21.29 L148.92,21.80 L152.71,22.53 L156.50,23.50 L160.29,24.71 L164.08,26.18 L167.87,27.90 L171.66,29.90 L175.45,32.18 L179.24,34.77 L183.03,37.69 L186.82,40.97 L190.61,44.64 L194.40,48.75 L198.19,53.37 L201.98,58.59 L205.77,64.52 L209.56,71.35 L213.35,79.38 L217.14,89.18 L220.93,102.11 L224.72,124.67 L228.51,140.00" fill="none" stroke="#111" stroke-width="0.9"/>
<g fill="#000"><circle cx="118.60" cy="23.90" r="1.3"/><circle cx="122.39" cy="23.09" r="1.3"/><circle cx="126.18" cy="22.21" r="1.3"/><circle cx="129.97" cy="21.57" r="1.3"/><circle cx="133.76" cy="21.16" r="1.3"/><circle cx="137.55" cy="20.98" r="1.3"/><circle cx="141.34" cy="21.02" r="1.3"/><circle cx="145.13" cy="21.29" r="1.3"/><circle cx="148.92" cy="21.80" r="1.3"/><circle cx="152.71" cy="22.53" r="1.3"/><circle cx="156.50" cy="23.50" r="1.3"/><circle cx="160.29" cy="24.71" r="1.3"/><circle cx="164.08" cy="26.18" r="1.3"/><circle cx="167.87" cy="27.90" r="1.3"/><circle cx="171.66" cy="29.90" r="1.3"/><circle cx="175.45" cy="32.18" r="1.3"/><circle cx="179.24" cy="34.77" r="1.3"/><circle cx="183.03" cy="37.69" r="1.3"/><circle cx="186.82" cy="40.97" r="1.3"/><circle cx="190.61" cy="44.64" r="1.3"/><circle cx="194.40" cy="48.75" r="1.3"/><circle cx="198.19" cy="53.37" r="1.3"/><circle cx="201.98" cy="58.59" r="1.3"/><circle cx="205.77" cy="64.52" r="1.3"/><circle cx="209.56" cy="71.35" r="1.3"/><circle cx="213.35" cy="79.38" r="1.3"/><circle cx="217.14" cy="89.18" r="1.3"/><circle cx="220.93" cy="102.11" r="1.3"/><circle cx="224.72" cy="124.67" r="1.3"/><circle cx="228.51" cy="140.00" r="1.3"/></g>
<line x1="429.1" y1="220.3" x2="429.1" y2="319.6" stroke="#707070" stroke-width="1.6" fill="none"/><line x1="428.3" y1="319.05" x2="575.2" y2="319.05" stroke="#3c3c3c" stroke-width="1.1" fill="none"/>
<g stroke="#3c3c3c" stroke-width="1.0" fill="none">
<line x1="429.1" y1="319.05" x2="431.3" y2="319.05"/>
<line x1="429.1" y1="274.45" x2="431.3" y2="274.45"/>
<line x1="429.1" y1="229.85" x2="431.3" y2="229.85"/>
<line x1="473.06" y1="319.05" x2="473.06" y2="317.25"/>
<line x1="517.02" y1="319.05" x2="517.02" y2="317.25"/>
<line x1="560.98" y1="319.05" x2="560.98" y2="317.25"/>
</g>
<path d="M431.10,238.10 L431.89,237.59 L432.95,236.88 L434.21,236.04 L435.61,235.11 L437.06,234.16 L438.51,233.24 L439.88,232.40 L441.10,231.70 L442.19,231.13 L443.21,230.62 L444.20,230.17 L445.16,229.76 L446.10,229.38 L447.05,229.02 L448.01,228.67 L449.00,228.30 L450.02,227.93 L451.06,227.57 L452.11,227.21 L453.16,226.88 L454.21,226.55 L455.26,226.25 L456.29,225.96 L457.30,225.70 L458.29,225.46 L459.25,225.25 L460.20,225.06 L461.14,224.88 L462.09,224.72 L463.04,224.57 L464.01,224.43 L465.00,224.30 L466.03,224.18 L467.10,224.06 L468.19,223.96 L469.28,223.87 L470.37,223.79 L471.42,223.72 L472.44,223.66 L473.40,223.60 L474.27,223.55 L475.06,223.50 L475.80,223.46 L476.52,223.43 L477.25,223.42 L478.01,223.41 L478.86,223.42 L479.80,223.45 L480.87,223.50 L482.03,223.56 L483.27,223.64 L484.55,223.73 L485.84,223.84 L487.12,223.95 L488.35,224.07 L489.50,224.20 L490.58,224.33 L491.62,224.47 L492.62,224.62 L493.60,224.78 L494.57,224.94 L495.53,225.12 L496.51,225.31 L497.50,225.50 L498.53,225.71 L499.60,225.95 L500.69,226.19 L501.77,226.45 L502.83,226.71 L503.83,226.95 L504.76,227.19 L505.60,227.40 L506.27,227.56 L506.78,227.66 L507.17,227.74 L507.54,227.81 L507.93,227.92 L508.43,228.08 L509.10,228.33 L510.00,228.70 L511.16,229.19 L512.52,229.76 L514.03,230.42 L515.65,231.14 L517.33,231.91 L519.03,232.72 L520.70,233.55 L522.30,234.40 L523.85,235.27 L525.40,236.17 L526.95,237.11 L528.50,238.09 L530.05,239.09 L531.60,240.13 L533.15,241.20 L534.70,242.30 L536.24,243.42 L537.78,244.55 L539.32,245.71 L540.85,246.90 L542.38,248.14 L543.92,249.43 L545.46,250.78 L547.00,252.20 L548.60,253.75 L550.27,255.43 L551.97,257.21 L553.66,259.02 L555.29,260.83 L556.82,262.58 L558.21,264.22 L559.40,265.70 L560.37,267.00 L561.15,268.16 L561.78,269.21 L562.31,270.20 L562.78,271.17 L563.24,272.17 L563.73,273.23 L564.30,274.40 L564.94,275.67 L565.60,277.01 L566.28,278.39 L566.96,279.80 L567.61,281.23 L568.23,282.67 L568.80,284.10 L569.30,285.50 L569.72,286.85 L570.07,288.15 L570.36,289.43 L570.62,290.73 L570.87,292.06 L571.12,293.46 L571.39,294.96 L571.70,296.60 L572.07,298.50 L572.48,300.69 L572.91,303.05 L573.35,305.44 L573.77,307.75 L574.15,309.85 L574.46,311.61 L574.70,312.90" fill="none" stroke="#000" stroke-width="2.75" stroke-linejoin="round"/>
<text transform="translate(26.89,345.90) scale(1.0859,1.0000)" font-size="12.25" style="font-family:'Liberation Sans', sans-serif;font-kerning:none;fill:#111111;stroke:#111111;stroke-width:0.25;" >3076</text>
<text transform="translate(26.89,313.50) scale(1.0856,1.0000)" font-size="12.25" style="font-family:'Liberation Sans', sans-serif;font-kerning:none;fill:#111111;stroke:#111111;stroke-width:0.25;" >3078</text>
<text transform="translate(26.89,281.10) scale(1.0834,1.0000)" font-size="12.25" style="font-family:'Liberation Sans', sans-serif;font-kerning:none;fill:#111111;stroke:#111111;stroke-width:0.25;" >3080</text>
<text transform="translate(26.89,248.70) scale(1.0891,1.0000)" font-size="12.25" style="font-family:'Liberation Sans', sans-serif;font-kerning:none;fill:#111111;stroke:#111111;stroke-width:0.25;" >3082</text>
<text transform="translate(26.90,216.30) scale(1.0785,1.0000)" font-size="12.25" style="font-family:'Liberation Sans', sans-serif;font-kerning:none;fill:#111111;stroke:#111111;stroke-width:0.25;" >3084</text>
<text transform="translate(26.89,183.90) scale(1.0859,1.0000)" font-size="12.25" style="font-family:'Liberation Sans', sans-serif;font-kerning:none;fill:#111111;stroke:#111111;stroke-width:0.25;" >3086</text>
<text transform="translate(26.89,151.50) scale(1.0856,1.0000)" font-size="12.25" style="font-family:'Liberation Sans', sans-serif;font-kerning:none;fill:#111111;stroke:#111111;stroke-width:0.25;" >3088</text>
<text transform="translate(26.89,119.10) scale(1.0834,1.0000)" font-size="12.25" style="font-family:'Liberation Sans', sans-serif;font-kerning:none;fill:#111111;stroke:#111111;stroke-width:0.25;" >3090</text>
<text transform="translate(26.89,86.70) scale(1.0891,1.0000)" font-size="12.25" style="font-family:'Liberation Sans', sans-serif;font-kerning:none;fill:#111111;stroke:#111111;stroke-width:0.25;" >3092</text>
<text transform="translate(26.90,54.30) scale(1.0785,1.0000)" font-size="12.25" style="font-family:'Liberation Sans', sans-serif;font-kerning:none;fill:#111111;stroke:#111111;stroke-width:0.25;" >3094</text>
<text transform="translate(26.89,21.90) scale(1.0859,1.0000)" font-size="12.25" style="font-family:'Liberation Sans', sans-serif;font-kerning:none;fill:#111111;stroke:#111111;stroke-width:0.25;" >3096</text>
<text transform="translate(45.50,372.75) scale(1.0811,1.0000)" font-size="12.25" style="font-family:'Liberation Sans', sans-serif;font-kerning:none;fill:#111111;stroke:#111111;stroke-width:0.25;" >3075</text>
<text transform="translate(181.75,372.75) scale(1.0796,1.0000)" font-size="12.25" style="font-family:'Liberation Sans', sans-serif;font-kerning:none;fill:#111111;stroke:#111111;stroke-width:0.25;" >3080</text>
<text transform="translate(318.00,372.75) scale(1.0811,1.0000)" font-size="12.25" style="font-family:'Liberation Sans', sans-serif;font-kerning:none;fill:#111111;stroke:#111111;stroke-width:0.25;" >3085</text>
<text transform="translate(454.25,372.75) scale(1.0796,1.0000)" font-size="12.25" style="font-family:'Liberation Sans', sans-serif;font-kerning:none;fill:#111111;stroke:#111111;stroke-width:0.25;" >3090</text>
<text transform="translate(590.50,372.75) scale(1.0811,1.0000)" font-size="12.25" style="font-family:'Liberation Sans', sans-serif;font-kerning:none;fill:#111111;stroke:#111111;stroke-width:0.25;" >3095</text>
<text transform="translate(16.00,226.18) rotate(-90) scale(0.9499,1.0200)" font-size="17.76" style="font-family:'Liberation Sans', sans-serif;font-kerning:none;fill:#111111;stroke:#111111;stroke-width:0.25;" >Re(</text>
<text transform="translate(16.00,198.47) rotate(-90) scale(0.9170,1.0000)" font-size="18.8" style="font-family:'Liberation Serif', serif;font-kerning:none;fill:#111111;stroke:#111111;stroke-width:0.25;" >ω</text>
<text transform="translate(16.00,186.60) rotate(-90) scale(0.9981,1.0200)" font-size="17.76" style="font-family:'Liberation Sans', sans-serif;font-kerning:none;fill:#111111;stroke:#111111;stroke-width:0.25;" >)</text>
<text transform="translate(16.00,179.69) rotate(-90) scale(1.4343,1.0000)" font-size="17.76" style="font-family:'Liberation Sans', sans-serif;font-kerning:none;fill:#111111;stroke:#111111;stroke-width:0.25;" >,</text>
<text transform="translate(16.00,168.98) rotate(-90) scale(1.0011,1.0200)" font-size="17.76" style="font-family:'Liberation Sans', sans-serif;font-kerning:none;fill:#111111;stroke:#111111;stroke-width:0.25;" >meV</text>
<text transform="translate(298.89,392.90) scale(0.9628,1.0000)" font-size="18.8" style="font-family:'Liberation Serif', serif;font-kerning:none;fill:#111111;stroke:#111111;stroke-width:0.25;" >ω</text>
<text transform="translate(310.70,401.50) scale(1.2120,1.0000)" font-size="12.6" style="font-family:'Liberation Sans', sans-serif;font-kerning:none;fill:#111111;stroke:#111111;stroke-width:0.25;" >0</text>
<text transform="translate(318.11,392.10) scale(1.4343,1.0000)" font-size="17.76" style="font-family:'Liberation Sans', sans-serif;font-kerning:none;fill:#111111;stroke:#111111;stroke-width:0.25;" >,</text>
<text transform="translate(328.91,392.10) scale(1.0125,1.0200)" font-size="17.76" style="font-family:'Liberation Sans', sans-serif;font-kerning:none;fill:#111111;stroke:#111111;stroke-width:0.25;" >meV</text>
<text transform="translate(73.53,214.60) scale(1.0579,1.0000)" font-size="15" style="font-family:'Liberation Sans', sans-serif;font-kerning:none;fill:#158a15;stroke:#158a15;stroke-width:0.25;" >cluster</text>
<text transform="translate(73.24,316.30) scale(1.0431,1.0000)" font-size="15" style="font-family:'Liberation Sans', sans-serif;font-kerning:none;fill:#d8832a;stroke:#d8832a;stroke-width:0.25;" >cavity</text>
<text transform="translate(230.24,301.35) scale(1.1378,1.0000)" font-size="18.0" style="font-family:'Liberation Serif', serif;font-kerning:none;fill:#ff0a0a;stroke:#ff0a0a;stroke-width:0.25;" >Ω</text>
<text transform="translate(244.93,310.60) scale(1.1453,1.0200)" font-size="12.5" style="font-family:'Liberation Sans', sans-serif;font-kerning:none;fill:#ff0a0a;stroke:#ff0a0a;stroke-width:0.25;" >R</text>
<text transform="translate(254.79,302.05) scale(1.1636,1.0000)" font-size="16.0" style="font-family:'Liberation Sans', sans-serif;font-kerning:none;fill:#ff0a0a;stroke:#ff0a0a;stroke-width:0.25;" >≈</text>
<text transform="translate(270.39,301.40) scale(1.0269,1.0000)" font-size="17.2" style="font-family:'Liberation Sans', sans-serif;font-kerning:none;fill:#ff0a0a;stroke:#ff0a0a;stroke-width:0.25;" >4</text>
<text transform="translate(284.79,301.40) scale(1.0295,1.0000)" font-size="17.76" style="font-family:'Liberation Sans', sans-serif;font-kerning:none;fill:#ff0a0a;stroke:#ff0a0a;stroke-width:0.25;" >meV</text>
<text transform="translate(105.04,144.95) scale(1.1300,1.0000)" font-size="12.25" style="font-family:'Liberation Sans', sans-serif;font-kerning:none;fill:#111111;stroke:#111111;stroke-width:0.25;" >0</text>
<text transform="translate(105.18,117.10) scale(1.1300,1.0000)" font-size="12.25" style="font-family:'Liberation Sans', sans-serif;font-kerning:none;fill:#111111;stroke:#111111;stroke-width:0.25;" >1</text>
<text transform="translate(105.20,89.25) scale(1.1300,1.0000)" font-size="12.25" style="font-family:'Liberation Sans', sans-serif;font-kerning:none;fill:#111111;stroke:#111111;stroke-width:0.25;" >2</text>
<text transform="translate(105.11,61.40) scale(1.1300,1.0000)" font-size="12.25" style="font-family:'Liberation Sans', sans-serif;font-kerning:none;fill:#111111;stroke:#111111;stroke-width:0.25;" >3</text>
<text transform="translate(104.91,33.55) scale(1.1300,1.0000)" font-size="12.25" style="font-family:'Liberation Sans', sans-serif;font-kerning:none;fill:#111111;stroke:#111111;stroke-width:0.25;" >4</text>
<text transform="translate(112.25,156.70) scale(1.1000,1.0000)" font-size="12.25" style="font-family:'Liberation Sans', sans-serif;font-kerning:none;fill:#111111;stroke:#111111;stroke-width:0.25;" >0</text>
<text transform="translate(160.95,156.70) scale(1.1000,1.0000)" font-size="12.25" style="font-family:'Liberation Sans', sans-serif;font-kerning:none;fill:#111111;stroke:#111111;stroke-width:0.25;" >2</text>
<text transform="translate(209.90,156.70) scale(1.1000,1.0000)" font-size="12.25" style="font-family:'Liberation Sans', sans-serif;font-kerning:none;fill:#111111;stroke:#111111;stroke-width:0.25;" >4</text>
<text transform="translate(258.01,156.70) scale(1.1000,1.0000)" font-size="12.25" style="font-family:'Liberation Sans', sans-serif;font-kerning:none;fill:#111111;stroke:#111111;stroke-width:0.25;" >6</text>
<text transform="translate(164.65,168.30) scale(1.0171,1.0000)" font-size="14.4" style="font-family:'Liberation Serif', serif;font-kerning:none;fill:#111111;stroke:#111111;stroke-width:0.25;" >δ</text>
<text transform="translate(170.25,168.30) scale(1.4791,1.0000)" font-size="12.4" style="font-family:'Liberation Sans', sans-serif;font-kerning:none;fill:#111111;stroke:#111111;stroke-width:0.25;" >,</text>
<text transform="translate(178.34,168.30) scale(1.0439,1.0200)" font-size="12.4" style="font-family:'Liberation Sans', sans-serif;font-kerning:none;fill:#111111;stroke:#111111;stroke-width:0.25;" >meV</text>
<text transform="translate(131.02,63.60) scale(1.0015,1.0000)" font-size="13.3" style="font-family:'Liberation Serif', serif;font-kerning:none;fill:#111111;stroke:#111111;stroke-width:0.25;" >γ</text>
<text transform="translate(136.47,63.50) scale(1.0373,1.0200)" font-size="12.4" style="font-family:'Liberation Sans', sans-serif;font-kerning:none;fill:#111111;stroke:#111111;stroke-width:0.25;" >=1 meV</text>
<text transform="translate(89.60,101.36) rotate(-90) scale(1.2454,1.0000)" font-size="11.8" style="font-family:'Liberation Serif', serif;font-kerning:none;fill:#111111;stroke:#111111;stroke-width:0.25;" >Ω</text>
<text transform="translate(95.90,90.23) rotate(-90) scale(1.0144,1.0000)" font-size="8.8" style="font-family:'Liberation Sans', sans-serif;font-kerning:none;fill:#111111;stroke:#111111;stroke-width:0.4;" >R</text>
<text transform="translate(90.60,83.66) rotate(-90) scale(1.4363,1.0000)" font-size="12.06" style="font-family:'Liberation Sans', sans-serif;font-kerning:none;fill:#111111;stroke:#111111;stroke-width:0.25;" >,</text>
<text transform="translate(89.60,78.83) rotate(-90) scale(1.1925,1.0000)" font-size="11.7" style="font-family:'Liberation Sans', sans-serif;font-kerning:none;fill:#111111;stroke:#111111;stroke-width:0.25;" >meV</text>
<text transform="translate(417.74,323.45) scale(1.1300,1.0000)" font-size="12.25" style="font-family:'Liberation Sans', sans-serif;font-kerning:none;fill:#111111;stroke:#111111;stroke-width:0.25;" >0</text>
<text transform="translate(417.90,278.85) scale(1.1300,1.0000)" font-size="12.25" style="font-family:'Liberation Sans', sans-serif;font-kerning:none;fill:#111111;stroke:#111111;stroke-width:0.25;" >2</text>
<text transform="translate(417.61,234.25) scale(1.1300,1.0000)" font-size="12.25" style="font-family:'Liberation Sans', sans-serif;font-kerning:none;fill:#111111;stroke:#111111;stroke-width:0.25;" >4</text>
<text transform="translate(425.55,334.70) scale(1.1000,1.0000)" font-size="12.25" style="font-family:'Liberation Sans', sans-serif;font-kerning:none;fill:#111111;stroke:#111111;stroke-width:0.25;" >0</text>
<text transform="translate(469.35,334.70) scale(1.1000,1.0000)" font-size="12.25" style="font-family:'Liberation Sans', sans-serif;font-kerning:none;fill:#111111;stroke:#111111;stroke-width:0.25;" >2</text>
<text transform="translate(513.50,334.70) scale(1.1000,1.0000)" font-size="12.25" style="font-family:'Liberation Sans', sans-serif;font-kerning:none;fill:#111111;stroke:#111111;stroke-width:0.25;" >4</text>
<text transform="translate(557.31,334.70) scale(1.1000,1.0000)" font-size="12.25" style="font-family:'Liberation Sans', sans-serif;font-kerning:none;fill:#111111;stroke:#111111;stroke-width:0.25;" >6</text>
<text transform="translate(480.02,345.60) scale(0.9836,1.0000)" font-size="13.3" style="font-family:'Liberation Serif', serif;font-kerning:none;fill:#111111;stroke:#111111;stroke-width:0.25;" >γ</text>
<text transform="translate(484.54,345.70) scale(1.3969,1.0000)" font-size="12.4" style="font-family:'Liberation Sans', sans-serif;font-kerning:none;fill:#111111;stroke:#111111;stroke-width:0.25;" >,</text>
<text transform="translate(492.04,345.70) scale(1.0480,1.0200)" font-size="12.4" style="font-family:'Liberation Sans', sans-serif;font-kerning:none;fill:#111111;stroke:#111111;stroke-width:0.25;" >meV</text>
<text transform="translate(467.42,252.80) scale(1.0697,1.0000)" font-size="14.4" style="font-family:'Liberation Serif', serif;font-kerning:none;fill:#111111;stroke:#111111;stroke-width:0.25;" >δ</text>
<text transform="translate(473.77,252.80) scale(1.0420,1.0200)" font-size="12.4" style="font-family:'Liberation Sans', sans-serif;font-kerning:none;fill:#111111;stroke:#111111;stroke-width:0.25;" >=2 meV</text>
<text transform="translate(401.90,295.25) rotate(-90) scale(1.2321,1.0000)" font-size="11.8" style="font-family:'Liberation Serif', serif;font-kerning:none;fill:#111111;stroke:#111111;stroke-width:0.25;" >Ω</text>
<text transform="translate(408.20,284.59) rotate(-90) scale(1.0909,1.0000)" font-size="8.8" style="font-family:'Liberation Sans', sans-serif;font-kerning:none;fill:#111111;stroke:#111111;stroke-width:0.4;" >R</text>
<text transform="translate(402.90,277.96) rotate(-90) scale(1.4363,1.0000)" font-size="12.06" style="font-family:'Liberation Sans', sans-serif;font-kerning:none;fill:#111111;stroke:#111111;stroke-width:0.25;" >,</text>
<text transform="translate(401.90,273.22) rotate(-90) scale(1.1882,1.0000)" font-size="11.7" style="font-family:'Liberation Sans', sans-serif;font-kerning:none;fill:#111111;stroke:#111111;stroke-width:0.25;" >meV</text>
</svg></body></html>
